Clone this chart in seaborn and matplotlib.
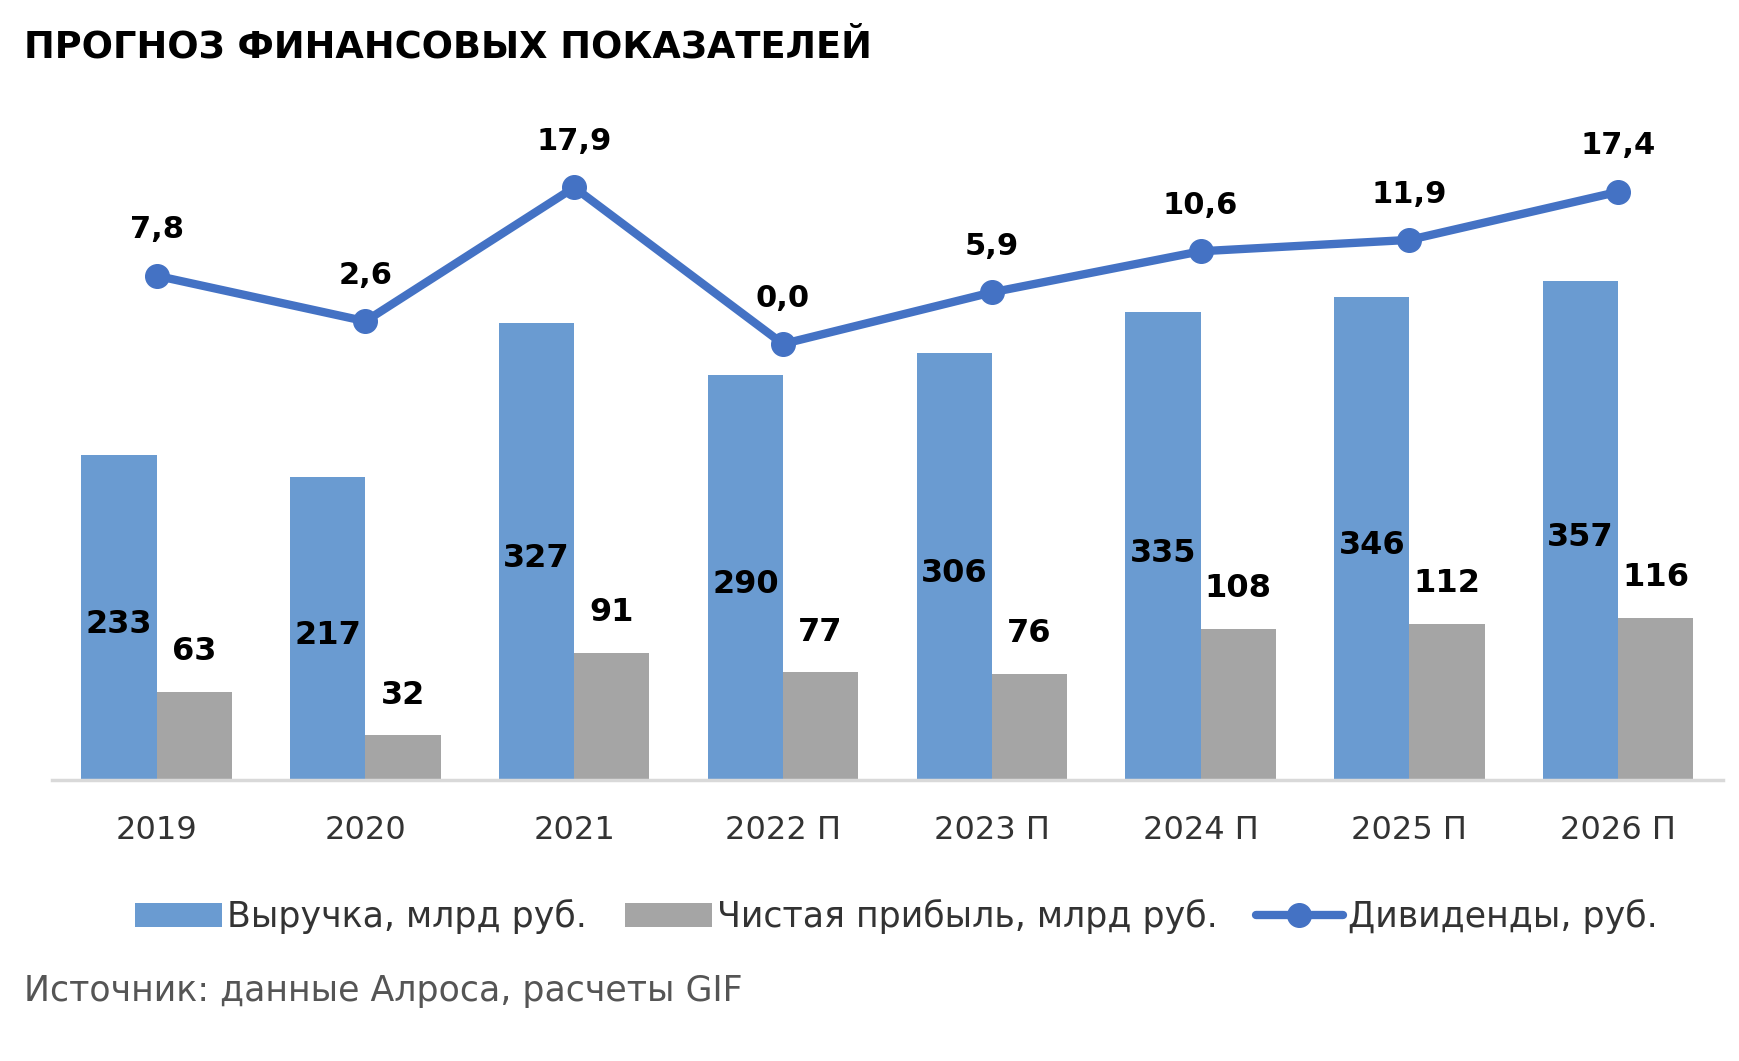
import numpy as np
import pandas as pd
import matplotlib
matplotlib.use("Agg")
import matplotlib.pyplot as plt
import seaborn as sns

# data
years = ["2019", "2020", "2021", "2022 П", "2023 П", "2024 П", "2025 П", "2026 П"]
revenue = [233, 217, 327, 290, 306, 335, 346, 357]
net_profit = [63, 32, 91, 77, 76, 108, 112, 116]
dividends = [7.8, 2.6, 17.9, 0.0, 5.9, 10.6, 11.9, 17.4]

rev_name = "Выручка, млрд руб."
np_name = "Чистая прибыль, млрд руб."
div_name = "Дивиденды, руб."

blue = "#6A9BD1"
gray = "#A5A5A5"
line_blue = "#4472C4"

df = pd.DataFrame({
    "year": years * 2,
    "value": revenue + net_profit,
    "series": [rev_name] * len(years) + [np_name] * len(years),
})

sns.set_style("white")
plt.rcParams["font.family"] = ["DejaVu Sans"]

fig = plt.figure(figsize=(17.4, 10.61), dpi=100)
ax = fig.add_axes([0.030, 0.2648, 0.960, 0.6306])

sns.barplot(data=df, x="year", y="value", hue="series", order=years,
            palette=[blue, gray], width=0.72, saturation=1, linewidth=0, ax=ax)
ax.set_xlim(-0.5, 7.5)
ax.set_ylim(0, 479)
ax.set_xlabel("")
ax.set_ylabel("")
ax.set_yticks([])
ax.tick_params(axis="x", length=0, pad=25, labelsize=23, labelcolor="#333333")
for s in ["top", "left", "right"]:
    ax.spines[s].set_visible(False)
ax.spines["bottom"].set_color("#D9D9D9")
ax.spines["bottom"].set_linewidth(2.5)
ax.get_legend().remove()

# bar labels
rev_bars, np_bars = ax.containers[0], ax.containers[1]
for bar, v in zip(rev_bars, revenue):
    ax.annotate(str(v), (bar.get_x() + bar.get_width() / 2, v / 2),
                xytext=(0, -5), textcoords="offset points",
                ha="center", va="center", fontsize=23, fontweight="bold", color="black")
for bar, v in zip(np_bars, net_profit):
    ax.annotate(str(v), (bar.get_x() + bar.get_width() / 2, v),
                xytext=(0, 29), textcoords="offset points",
                ha="center", va="center", fontsize=23, fontweight="bold", color="black")

# dividends line on a second axis
ax2 = ax.twinx()
x_pos = np.arange(len(years))
ax2.plot(x_pos, dividends, color=line_blue, lw=6, marker="o", markersize=17,
         label=div_name, solid_capstyle="round")
ax2.set_ylim(-49.86, 26.64)
ax2.axis("off")
for x, v in zip(x_pos, dividends):
    ax2.annotate(f"{v:.1f}".replace(".", ","), (x, v), xytext=(0, 33),
                 textcoords="offset points", ha="center", va="center",
                 fontsize=22, fontweight="bold", color="black")

# legend
handles = [rev_bars[0], np_bars[0], ax2.get_lines()[0]]
labels = [rev_name, np_name, div_name]
fig.legend(handles, labels, loc="center", bbox_to_anchor=(0.515, 0.136), ncol=3,
           frameon=False, fontsize=25, handlelength=2.5, handletextpad=0.15,
           columnspacing=1.1, labelcolor="#333333")

fig.text(0.0138, 0.956, "ПРОГНОЗ ФИНАНСОВЫХ ПОКАЗАТЕЛЕЙ", fontsize=26.5,
         fontweight="bold", ha="left", va="center", color="black")
fig.text(0.0138, 0.066, "Источник: данные Алроса, расчеты GIF", fontsize=25,
         ha="left", va="center", color="#555555")

fig.savefig("out.png", dpi=100)
